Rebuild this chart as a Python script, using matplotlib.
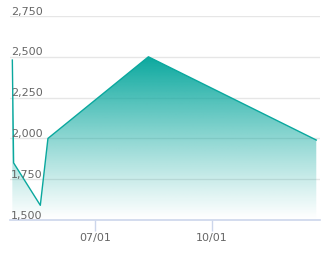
import numpy as np
import pandas as pd
import matplotlib
matplotlib.use('Agg')
from matplotlib import pyplot as plt
from matplotlib import dates as mdates
from matplotlib.transforms import blended_transform_factory

dates = pd.to_datetime(['2023-04-27', '2023-04-28', '2023-05-19',
                        '2023-05-25', '2023-08-12', '2023-12-22'])
values = [2480, 1850, 1590, 2000, 2500, 1990]
yticks = [1500, 1750, 2000, 2250, 2500, 2750]
xticks = pd.to_datetime(['2023-07-01', '2023-10-01'])

teal = '#0aa89e'
W, H = 330, 258
fig = plt.figure(figsize=(W / 100, H / 100), dpi=100)
ax = fig.add_axes([10 / W, 1 - 220 / H, 310 / W, 204 / H])

px_day = 117 / 92
x0 = mdates.date2num(xticks[0]) - 85 / px_day
x1 = mdates.date2num(xticks[1]) + 108 / px_day
ax.set_xlim(x0, x1)
ax.set_ylim(1500, 2750)

xn = mdates.date2num(dates)
# gradient fill clipped to area under the line
poly = ax.fill_between(xn, values, 1500, color='none', lw=0)
grad = np.linspace(0, 1, 256).reshape(-1, 1)
rgb = np.array(matplotlib.colors.to_rgb(teal))
img = np.ones((256, 1, 4))
img[:, :, :3] = rgb
img[:, :, 3] = grad ** 1.1
im = ax.imshow(img, extent=[x0, x1, 1500, 2500], origin='lower',
               aspect='auto', zorder=1, interpolation='bilinear')
im.set_clip_path(poly.get_paths()[0], transform=ax.transData)
ax.plot(xn, values, color=teal, lw=1, zorder=3)

for v in yticks[1:]:
    ax.axhline(v, color='#e6e6e6', lw=1, zorder=0)
ax.axhline(1500, color='#ccd6eb', lw=1.2, zorder=4, clip_on=False)

for s in ax.spines.values():
    s.set_visible(False)
ax.set_yticks([])
ax.set_xticks(mdates.date2num(xticks))
ax.set_xticklabels([d.strftime('%m/%d') for d in xticks])
ax.tick_params(axis='x', length=8, width=1, color='#ccd6eb',
               labelcolor='#666666', labelsize=8, pad=1)

tr = blended_transform_factory(fig.transFigure, ax.transData)
for v in yticks:
    ax.text(11 / W, v + 9, f'{v:,}', transform=tr, fontsize=8,
            color='#666666', ha='left', va='baseline', zorder=5)

fig.savefig('out.png', dpi=100)
